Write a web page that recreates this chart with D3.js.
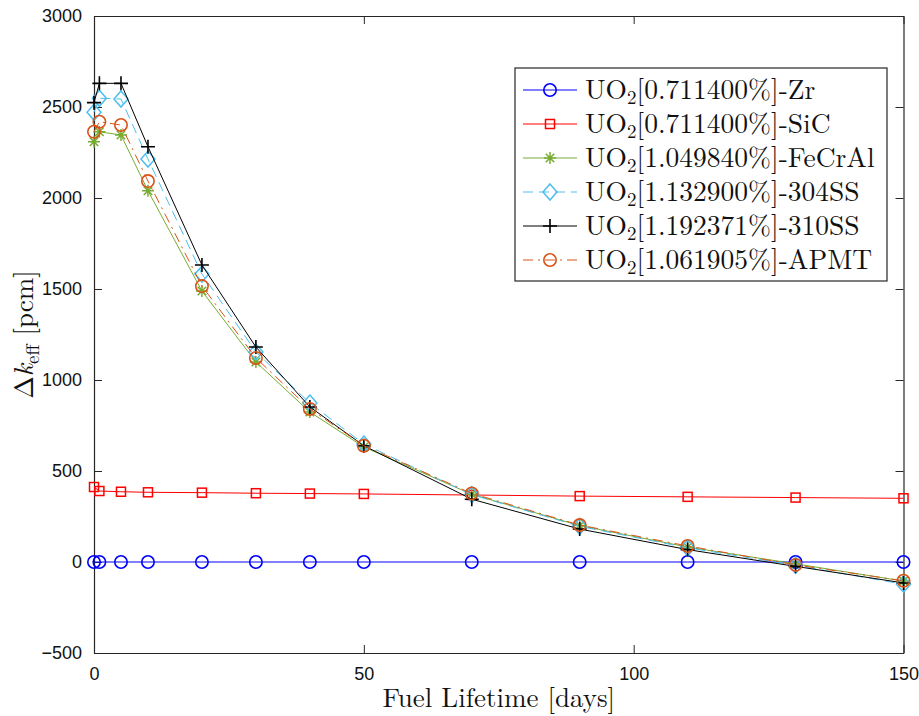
<!DOCTYPE html>
<html>
<head>
<meta charset="utf-8">
<script src="https://cdn.jsdelivr.net/npm/d3@7/dist/d3.min.js"></script>
<style>
  html, body { margin: 0; padding: 0; background: #fff; }
  svg { display: block; }
</style>
</head>
<body>
<svg id="chart" width="919" height="716"></svg>
<script>
// ---- data ----
const days = [0, 1, 5, 10, 20, 30, 40, 50, 70, 90, 110, 130, 150];
const zr     = [0, 0, 0, 0, 0, 0, 0, 0, 0, 0, 0, 0, 0];
const sic    = [412, 390, 386, 383, 381, 378, 376, 374, 368, 362, 358, 354, 350];
const fecral = [2309, 2364, 2346, 2040, 1489, 1099, 824, 632, 372, 200, 82, -10, -105];
const ss304  = [2471, 2548, 2544, 2214, 1582, 1154, 873, 648, 370, 196, 78, -18, -122];
const ss310  = [2524, 2630, 2630, 2282, 1632, 1181, 852, 639, 345, 181, 68, -24, -115];
const apmt   = [2364, 2419, 2401, 2093, 1516, 1121, 841, 639, 377, 203, 88, -16, -103];
const xTicks = [0, 50, 100, 150];
const yTicks = [-500, 0, 500, 1000, 1500, 2000, 2500, 3000];

const series = [
  { pct: "0.711400", mat: "Zr",     values: zr,     color: "#0000ff", dash: null,        marker: "circle" },
  { pct: "0.711400", mat: "SiC",    values: sic,    color: "#ff0000", dash: null,        marker: "square" },
  { pct: "1.049840", mat: "FeCrAl", values: fecral, color: "#77ac30", dash: null,        marker: "asterisk" },
  { pct: "1.132900", mat: "304SS",  values: ss304,  color: "#4dbeee", dash: "10,6",      marker: "diamond" },
  { pct: "1.192371", mat: "310SS",  values: ss310,  color: "#000000", dash: null,        marker: "plus" },
  { pct: "1.061905", mat: "APMT",   values: apmt,   color: "#d95319", dash: "10,5,2,5",  marker: "circle" }
];

// ---- layout ----
const svg = d3.select("#chart");
const L = 94, R = 903.5, T = 16, B = 653;
const x = d3.scaleLinear().domain([0, 150]).range([L, R]);
const y = d3.scaleLinear().domain([-500, 3000]).range([B, T]);
const axisColor = "#262626";
const serif = "'Latin Modern Roman','CMU Serif','Liberation Serif','Times New Roman',serif";
const sans = "'Liberation Sans', Arial, Helvetica, sans-serif";
const fmt = d3.format("d");

// axes (MATLAB-like box with inward ticks)
const tl = 8;
const gx = svg.append("g").attr("transform", `translate(0,${B})`)
  .call(d3.axisBottom(x).tickValues(xTicks).tickFormat(fmt).tickSizeInner(-tl).tickSizeOuter(0).tickPadding(14));
const gxTop = svg.append("g").attr("transform", `translate(0,${T})`)
  .call(d3.axisTop(x).tickValues(xTicks).tickSizeInner(-tl).tickSizeOuter(0).tickFormat(""));
const gy = svg.append("g").attr("transform", `translate(${L},0)`)
  .call(d3.axisLeft(y).tickValues(yTicks).tickFormat(fmt).tickSizeInner(-tl).tickSizeOuter(0).tickPadding(12));
const gyR = svg.append("g").attr("transform", `translate(${R},0)`)
  .call(d3.axisRight(y).tickValues(yTicks).tickSizeInner(-tl).tickSizeOuter(0).tickFormat(""));
[gx, gxTop, gy, gyR].forEach(g => {
  g.select(".domain").attr("stroke", axisColor).attr("stroke-width", 1.2);
  g.selectAll(".tick line").attr("stroke", axisColor).attr("stroke-width", 1);
  g.selectAll(".tick text").attr("fill", "#111").attr("font-family", sans).attr("font-size", 18);
});

// clip for lines
svg.append("defs").append("clipPath").attr("id", "clip")
  .append("rect").attr("x", L - 10).attr("y", T - 10).attr("width", R - L + 20).attr("height", B - T + 20);

const plot = svg.append("g").attr("clip-path", "url(#clip)");
const line = d3.line().x((d, i) => x(days[i])).y(d => y(d));

function drawMarker(g, type, cx, cy, color) {
  if (type === "circle") {
    g.append("circle").attr("cx", cx).attr("cy", cy).attr("r", 6.2)
      .attr("fill", "none").attr("stroke", color).attr("stroke-width", 1.6);
  } else if (type === "square") {
    g.append("rect").attr("x", cx - 4.5).attr("y", cy - 4.5).attr("width", 9).attr("height", 9)
      .attr("fill", "none").attr("stroke", color).attr("stroke-width", 1.5);
  } else if (type === "diamond") {
    g.append("path").attr("d", `M${cx},${cy - 8}L${cx + 7},${cy}L${cx},${cy + 8}L${cx - 7},${cy}Z`)
      .attr("fill", "none").attr("stroke", color).attr("stroke-width", 1.5);
  } else if (type === "plus") {
    g.append("path").attr("d", `M${cx - 7},${cy}H${cx + 7}M${cx},${cy - 7}V${cy + 7}`)
      .attr("fill", "none").attr("stroke", color).attr("stroke-width", 1.6);
  } else if (type === "asterisk") {
    const r = 6;
    const d = [0, 45, 90, 135].map(a => {
      const rad = a * Math.PI / 180;
      const dx = r * Math.cos(rad), dy = r * Math.sin(rad);
      return `M${cx - dx},${cy - dy}L${cx + dx},${cy + dy}`;
    }).join("");
    g.append("path").attr("d", d).attr("fill", "none").attr("stroke", color).attr("stroke-width", 1.5);
  }
}

series.forEach(s => {
  const g = plot.append("g");
  g.append("path").datum(s.values).attr("d", line)
    .attr("fill", "none").attr("stroke", s.color).attr("stroke-width", 1)
    .attr("stroke-dasharray", s.dash);
  s.values.forEach((v, i) => drawMarker(g, s.marker, x(days[i]), y(v), s.color));
});

// axis labels
svg.append("text").attr("x", (L + R) / 2).attr("y", 707).attr("text-anchor", "middle")
  .attr("font-family", serif).attr("font-size", 27).attr("fill", "#111")
  .text("Fuel Lifetime [days]");

const yl = svg.append("text").attr("transform", `translate(33,${(T + B) / 2}) rotate(-90)`)
  .attr("text-anchor", "middle").attr("font-family", serif).attr("font-size", 27).attr("fill", "#111");
yl.append("tspan").text("Δ");
yl.append("tspan").attr("font-style", "italic").text("k");
yl.append("tspan").attr("font-size", 19).attr("dy", 6).text("eff");
yl.append("tspan").attr("dy", -6).text(" [pcm]");

// legend
const lg = svg.append("g");
const lx = 515, ly = 68, lw = 372, lh = 213;
lg.append("rect").attr("x", lx).attr("y", ly).attr("width", lw).attr("height", lh)
  .attr("fill", "#fff").attr("stroke", axisColor).attr("stroke-width", 1.2);
series.forEach((s, i) => {
  const cy = 90 + i * 34;
  lg.append("line").attr("x1", 523).attr("x2", 577).attr("y1", cy).attr("y2", cy)
    .attr("stroke", s.color).attr("stroke-width", 1).attr("stroke-dasharray", s.dash);
  drawMarker(lg, s.marker, 550, cy, s.color);
  const t = lg.append("text").attr("x", 585).attr("y", cy + 9)
    .attr("font-family", serif).attr("font-size", 27.5).attr("fill", "#111");
  t.append("tspan").text("UO");
  t.append("tspan").attr("font-size", 19).attr("dy", 5).text("2");
  t.append("tspan").attr("dy", -5).text(`[${s.pct}%]-${s.mat}`);
});
</script>
</body>
</html>
